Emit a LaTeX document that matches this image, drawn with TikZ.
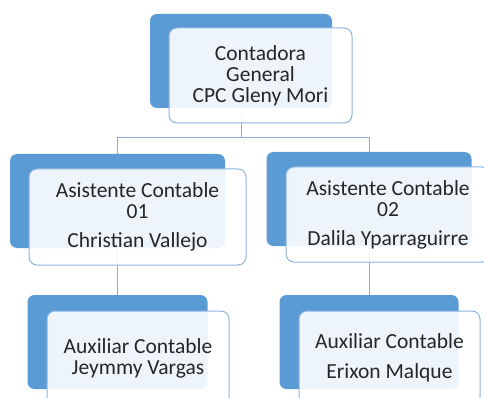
\documentclass[tikz,border=0pt]{standalone}
\usepackage{fontspec}
\setmainfont{Carlito}
\usetikzlibrary{positioning}

\definecolor{backblue}{HTML}{5B9BD5}
\definecolor{edgeblue}{HTML}{8DB3E2}
\definecolor{linkblue}{HTML}{8EAADB}
\definecolor{textgrey}{HTML}{262626}

\begin{document}
\begin{tikzpicture}[x=1pt, y=-1pt,
		back/.style = {fill=backblue, rounded corners=7pt, inner sep=0pt},
		front/.style = {draw=edgeblue, line width=1pt, fill=white, fill opacity=0.9, text opacity=1, text=textgrey, rounded corners=8pt, inner sep=0pt, align=center, font=\fontsize{21.5}{21}\selectfont},
		link/.style = {draw=linkblue, line width=1pt}]
			\useasboundingbox (0,0) rectangle (484,398);
			\clip (0,0) rectangle (484,398);
			% blue boxes behind
			\node[back, minimum width=182pt, minimum height=94pt] (cgb) at (241,61) {};
			\node[back, minimum width=215pt, minimum height=94pt] (a1b) at (117.5,201) {};
			\node[back, minimum width=205pt, minimum height=94pt] (a2b) at (369,199) {};
			\node[back, minimum width=180pt, minimum height=94pt] (x1b) at (117.5,342) {};
			\node[back, minimum width=179pt, minimum height=94pt] (x2b) at (369,342) {};
			% lines
			\coordinate (bus) at (241,138);
			\draw[link] (cgb) -- (bus) -| (a1b);
			\draw[link] (bus) -| (a2b);
			\draw[link] (a1b) -- (x1b);
			\draw[link] (a2b) -- (x2b);
			% boxes with text
			\node[front, minimum width=183pt, minimum height=95pt] (cg) at (260.5,75.5) {Contadora\\General\\CPC Gleny Mori};
			\node[front, minimum width=217pt, minimum height=96pt] (a1) at (137.5,217) {Asistente Contable\\01\\[8pt]Christian Vallejo};
			\node[front, minimum width=204pt, minimum height=95pt] (a2) at (388,214.5) {Asistente Contable\\02\\[8pt]Dalila Yparraguirre};
			\node[front, minimum width=182pt, minimum height=94pt] (x1) at (138,358) {Auxiliar Contable\\Jeymmy Vargas};
			\node[front, minimum width=181pt, minimum height=94pt] (x2) at (389.5,358) {Auxiliar Contable\\[9pt]Erixon Malque};
		\end{tikzpicture}
\end{document}
